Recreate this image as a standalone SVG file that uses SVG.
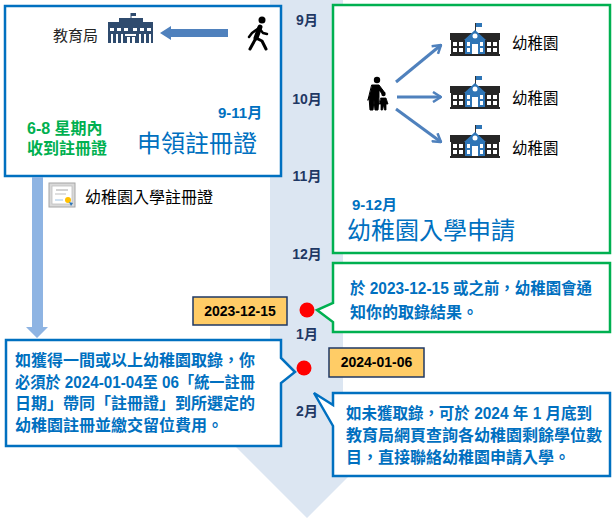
<svg xmlns="http://www.w3.org/2000/svg" width="615" height="524" viewBox="0 0 615 524">
<style>
.cjk{font-family:"Liberation Sans","Noto Sans CJK TC",sans-serif}
.blue{fill:#0070C0;font-weight:bold;font-size:16px}
.mon{fill:#1F3864;font-weight:bold;font-size:14px;text-anchor:middle}
.date{fill:#000;font-weight:bold;font-size:14px;text-anchor:middle}
.plain{fill:#262626;font-size:15px}
.datebox{fill:#FFCC66;stroke:#1F3864;stroke-width:1.5}
.dot{fill:#FF0000}
</style>
<defs>
<marker id="chev" viewBox="0 0 10 12" refX="9" refY="6" markerWidth="10" markerHeight="12" markerUnits="userSpaceOnUse" orient="auto">
<path d="M1,1 L9,6 L1,11" fill="none" stroke="#4F81BD" stroke-width="2.5"/>
</marker>
<symbol id="school" viewBox="0 0 50 33" width="50" height="33">
<line x1="25.5" y1="0" x2="25.5" y2="8" stroke="#333" stroke-width="1"/>
<rect x="26" y="0" width="6" height="4" fill="#2E75B6"/>
<rect x="0" y="10" width="50" height="7" fill="#262626"/>
<polygon points="14,17 25,7 36,17" fill="#2E75B6"/>
<circle cx="25" cy="13" r="2.5" fill="#fff"/>
<rect x="1" y="17" width="14" height="14" fill="#262626"/>
<rect x="35" y="17" width="14" height="14" fill="#262626"/>
<rect x="15" y="17" width="20" height="14" fill="#2E75B6"/>
<g fill="#fff">
<rect x="3" y="19" width="4" height="4"/><rect x="9" y="19" width="4" height="4"/>
<rect x="3" y="25" width="4" height="4"/><rect x="9" y="25" width="4" height="4"/>
<rect x="37" y="19" width="4" height="4"/><rect x="43" y="19" width="4" height="4"/>
<rect x="37" y="25" width="4" height="4"/><rect x="43" y="25" width="4" height="4"/>
<rect x="17" y="19" width="3" height="4"/><rect x="30" y="19" width="3" height="4"/>
<rect x="17" y="25" width="3" height="4"/><rect x="30" y="25" width="3" height="4"/>
<rect x="22" y="21" width="6" height="10"/>
</g>
<rect x="0" y="31" width="50" height="2" fill="#262626"/>
</symbol>
</defs>

<!-- timeline band -->
<polygon id="band" points="270,0 343,0 343,446 379,446 307,518 235,446 270,446" fill="#DCE6F2"/>

<!-- month labels -->
<g id="months" class="cjk">
<text class="mon" x="307" y="25">9月</text>
<text class="mon" x="307" y="104">10月</text>
<text class="mon" x="307" y="181">11月</text>
<text class="mon" x="307" y="259">12月</text>
<text class="mon" x="307" y="339">1月</text>
<text class="mon" x="307" y="416">2月</text>
</g>

<!-- top-left box -->
<g id="apply-cert">
<rect x="5" y="6" width="276" height="170" fill="#fff" stroke="#0070C0" stroke-width="2.5"/>
<text class="cjk plain" x="53" y="41">教育局</text>
<g id="edb-icon" fill="#2F4B6E">
<line x1="131" y1="13" x2="131" y2="19" stroke="#2F4B6E" stroke-width="1"/>
<rect x="131" y="13" width="5" height="3"/>
<rect x="119" y="18" width="24" height="4"/>
<rect x="108" y="22" width="45" height="5"/>
<rect x="108" y="27" width="45" height="16"/>
<g fill="#fff">
<rect x="110" y="28" width="4" height="3"/><rect x="117" y="28" width="4" height="3"/><rect x="124" y="28" width="4" height="3"/><rect x="133" y="28" width="4" height="3"/><rect x="140" y="28" width="4" height="3"/><rect x="147" y="28" width="4" height="3"/>
<rect x="111" y="34" width="2" height="9"/><rect x="116" y="34" width="2" height="9"/><rect x="121" y="34" width="2" height="9"/>
<rect x="125" y="34" width="11" height="2"/><rect x="127" y="37" width="3" height="6"/><rect x="132" y="37" width="3" height="6"/>
<rect x="139" y="34" width="2" height="9"/><rect x="144" y="34" width="2" height="9"/><rect x="149" y="34" width="2" height="9"/>
</g>
</g>
<g id="walker" stroke="#000" stroke-linecap="round" stroke-linejoin="round" fill="none">
<circle cx="262" cy="20" r="3.5" fill="#000" stroke="none"/>
<path d="M260,27 L256,38" stroke-width="5"/>
<path d="M256,38 L250,49" stroke-width="3"/>
<path d="M256,38 L262,41 L266,49" stroke-width="3"/>
<path d="M259,28 L252,33 L249,37" stroke-width="2.5"/>
<path d="M259,28 L263,33 L267,34" stroke-width="2.5"/>
</g>
<text class="cjk" x="218" y="118" fill="#0070C0" font-weight="bold" font-size="15">9-11月</text>
<text class="cjk" x="137" y="152" fill="#0070C0" font-size="24">申領註冊證</text>
<text class="cjk" x="27" y="134" fill="#00B050" font-weight="bold" font-size="16">6-8 星期內</text>
<text class="cjk" x="27" y="154" fill="#00B050" font-weight="bold" font-size="16">收到註冊證</text>
</g>

<!-- certificate label -->
<g id="certificate">
<rect x="49" y="183" width="26" height="24" fill="#D9D9D9" stroke="#A6A6A6" stroke-width="1"/>
<rect x="52" y="186" width="20" height="18" fill="#fff" stroke="#BFBFBF" stroke-width="0.8"/>
<line x1="56" y1="190" x2="68" y2="190" stroke="#A6A6A6" stroke-width="1"/>
<line x1="55" y1="194" x2="66" y2="194" stroke="#BFBFBF" stroke-width="1"/>
<line x1="55" y1="200" x2="63" y2="200" stroke="#9DC3E6" stroke-width="1"/>
<circle cx="68" cy="200" r="3" fill="#FFC000"/>
<path d="M69,202 L71,206 L73,203" fill="#2E75B6"/>
<text class="cjk" x="85" y="203" fill="#000" font-size="16">幼稚園入學註冊證</text>
</g>

<!-- top-right box -->
<g id="kg-apply">
<rect x="333" y="5" width="277" height="248" fill="#fff" stroke="#00B050" stroke-width="2.5"/>
<g id="parent-child" fill="#000" stroke="#000" stroke-linecap="round" stroke-linejoin="round">
<circle cx="377" cy="80" r="3.2" stroke="none"/>
<path d="M372,85 L379,85 L385,93 L383,95 L379,90 L379,97 L378,110 L375,110 L374,100 L373,110 L370,110 L369,97 L368,100 Z" stroke-width="1"/>
<circle cx="383.5" cy="94" r="2.2" stroke="none"/>
<path d="M381,98 L386,98 L388,104 L386,104 L386,110 L384.5,110 L383.5,105 L382.5,110 L381,110 L381,104 L379,104 Z" stroke-width="0.8"/>
</g>
<use href="#school" x="450" y="23"/>
<use href="#school" x="450" y="76"/>
<use href="#school" x="450" y="125"/>
<text class="cjk" x="512" y="49" fill="#000" font-size="15.5">幼稚園</text>
<text class="cjk" x="512" y="104" fill="#000" font-size="15.5">幼稚園</text>
<text class="cjk" x="512" y="154" fill="#000" font-size="15.5">幼稚園</text>
<text class="cjk" x="352" y="210" fill="#0070C0" font-weight="bold" font-size="15">9-12月</text>
<text class="cjk" x="347" y="239" fill="#0070C0" font-size="24">幼稚園入學申請</text>
</g>

<!-- result notice callout -->
<g id="notice-1215">
<path d="M333,263 H610 V332 H333 V322 L317,310 L333,303 Z" fill="#fff" stroke="#00B050" stroke-width="2.5" stroke-linejoin="miter"/>
<text class="cjk blue" x="350" y="294" textLength="242" lengthAdjust="spacingAndGlyphs">於 2023-12-15 或之前，幼稚園會通</text>
<text class="cjk blue" x="350" y="318">知你的取錄結果。</text>
</g>

<g id="date-1215">
<rect class="datebox" x="193" y="297" width="94" height="28"/>
<text class="cjk date" x="240" y="316">2023-12-15</text>
<circle class="dot" cx="307" cy="310" r="7.5"/>
</g>

<g id="date-0106">
<rect class="datebox" x="329" y="348" width="95" height="29"/>
<text class="cjk date" x="376.5" y="367">2024-01-06</text>
<circle class="dot" cx="304" cy="368" r="7.5"/>
</g>

<!-- registration callout -->
<g id="register-callout">
<path d="M6,340 H281 V358 L295,372 L281,383 V446 H6 Z" fill="#fff" stroke="#0070C0" stroke-width="2.5"/>
<text class="cjk blue" x="15" y="366">如獲得一間或以上幼稚園取錄，你</text>
<text class="cjk blue" x="15" y="388" textLength="240" lengthAdjust="spacingAndGlyphs">必須於 2024-01-04至 06「統一註冊</text>
<text class="cjk blue" x="15" y="409">日期」帶同「註冊證」到所選定的</text>
<text class="cjk blue" x="15" y="431">幼稚園註冊並繳交留位費用。</text>
</g>

<!-- no-offer callout -->
<g id="no-offer-callout">
<path d="M333,393 H610 V476 H333 V426 L314,393 L333,405 Z" fill="#fff" stroke="#0070C0" stroke-width="2.5"/>
<text class="cjk blue" x="346" y="419" textLength="246" lengthAdjust="spacingAndGlyphs">如未獲取錄，可於 2024 年 1 月底到</text>
<text class="cjk blue" x="346" y="441">教育局網頁查詢各幼稚園剩餘學位數</text>
<text class="cjk blue" x="346" y="463">目，直接聯絡幼稚園申請入學。</text>
</g>

<!-- connectors (drawn above the boxes) -->
<g id="connectors">
<polygon points="32,177 43,177 43,327 48,327 37,338 26,327 32,327" fill="#8EB4E3"/>
<polygon points="160,33 171,26 171,29 228,29 228,37 171,37 171,40" fill="#4F81BD"/>
<line x1="396" y1="82" x2="441" y2="45" stroke="#4F81BD" stroke-width="3" marker-end="url(#chev)"/>
<line x1="397" y1="97" x2="441" y2="97" stroke="#4F81BD" stroke-width="3" marker-end="url(#chev)"/>
<line x1="396" y1="109" x2="441" y2="142" stroke="#4F81BD" stroke-width="3" marker-end="url(#chev)"/>
</g>
</svg>
